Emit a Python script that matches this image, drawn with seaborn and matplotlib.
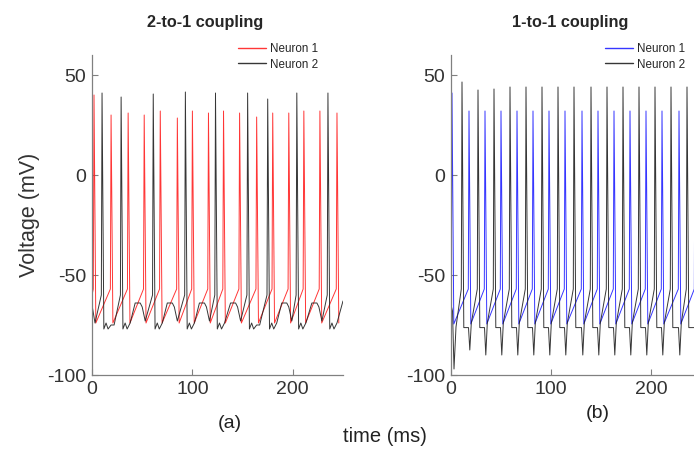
import numpy as np
import pandas as pd
import matplotlib
matplotlib.use("Agg")
import matplotlib.pyplot as plt
import seaborn as sns


# --- values (time in ms, voltage in mV) ---

# (a) 2-to-1 coupling
a_n1_spike_t = [2, 19, 36, 52, 68, 85, 100, 116, 131, 147, 164, 180, 196, 211, 227, 244]
a_n1_spike_v = [40, 30, 31, 30, 32, 28.5, 32, 31, 32, 31, 29, 31, 31, 32, 32, 31]
a_n1_extra_t = [0]
a_n1_extra_v = [-60]

a_n2_spike_t = [10, 29, 61, 93, 123, 155, 175, 204, 235]
a_n2_spike_v = [41, 39, 40.5, 41.5, 41, 41, 38, 41, 41]
a_n2_extra_t = [0, 3, 14, 16, 19, 22,
                33, 35, 38, 43, 48, 50, 53,
                65, 67, 70, 75, 80, 82, 85,
                97, 99, 102, 107, 112, 114, 117,
                127, 129, 132, 138, 143, 145, 148,
                159, 161, 164, 167,
                179, 181, 184, 189, 194, 196, 199,
                208, 210, 213, 219, 224, 226, 229,
                239, 241, 244, 250]
a_n2_extra_v = [-65, -74, -74, -77, -75, -75,
                -74, -77, -74, -64, -64, -66, -73,
                -74, -77, -74, -64, -64, -66, -73,
                -74, -77, -74, -64, -64, -66, -73,
                -74, -77, -74, -64, -64, -66, -73,
                -74, -77, -75, -75,
                -74, -77, -74, -64, -64, -66, -73,
                -74, -77, -74, -64, -64, -66, -73,
                -74, -77, -74, -63]

# (b) 1-to-1 coupling
b_n1_spike_t = [1, 18, 34, 50, 66, 82, 98, 114, 131, 147, 163, 179, 195, 211, 228, 244]
b_n1_spike_v = [41, 32, 32, 32, 32, 32, 32, 32, 32, 32, 32, 32, 32, 32, 32, 32]
b_n1_extra_t = [0]
b_n1_extra_v = [-59]

b_n2_spike_t = [11, 27, 43, 59, 75, 91, 107, 123, 140, 156, 172, 188, 204, 220, 236]
b_n2_spike_v = [46.5, 42.5, 43, 44, 44, 44, 44, 44, 44, 44, 44, 44, 44, 44, 44]
b_n2_dip_t = [18.8, 34.8, 50.8, 66.8, 82.8, 98.8, 114.8, 131.8, 147.8, 163.8,
              179.8, 195.8, 211.8, 228.8, 244.8]
b_n2_dip_v = [-87.5, -90, -90, -90, -90, -90, -90, -90, -90, -90,
              -90, -90, -90, -90, -90]
b_n2_extra_t = [0, 1.5, 3, 5, 250]
b_n2_extra_v = [-65, -68, -97, -76, -66]


def build_trace(spk_t, spk_v, v_pre, v_trough, extra_t, extra_v):
    # each spike: threshold -> peak -> after-hyperpolarisation
    t, v = [], []
    for ts, vs in zip(spk_t, spk_v):
        t += [ts - 0.7, ts, ts + 1.8]
        v += [v_pre, vs, v_trough]
    t += list(extra_t)
    v += list(extra_v)
    order = np.argsort(t)
    return pd.DataFrame({"t": np.array(t)[order], "v": np.array(v)[order]})


def add_dips(dip_t, dip_v, flat_v, rec_v):
    t, v = [], []
    for dt, dv in zip(dip_t, dip_v):
        t += [dt - 1.3, dt, dt + 1.5]
        v += [flat_v, dv, rec_v]
    return t, v


sns.set_style("ticks")
plt.rcParams["font.family"] = ["Liberation Sans", "DejaVu Sans"]
plt.rcParams["axes.unicode_minus"] = False

fig = plt.figure(figsize=(6.94, 4.51), dpi=100)
ax1 = fig.add_axes([92 / 694, 76 / 451, 251 / 694, 320 / 451])
ax2 = fig.add_axes([451 / 694, 76 / 451, 250 / 694, 320 / 451])

a_n1 = build_trace(a_n1_spike_t, a_n1_spike_v, -57, -74, a_n1_extra_t, a_n1_extra_v)
a_n2 = build_trace(a_n2_spike_t, a_n2_spike_v, -60, -77, a_n2_extra_t, a_n2_extra_v)
b_n1 = build_trace(b_n1_spike_t, b_n1_spike_v, -57, -74.5, b_n1_extra_t, b_n1_extra_v)
dip_t, dip_v = add_dips(b_n2_dip_t, b_n2_dip_v, -76.3, -74)
b_n2 = build_trace(b_n2_spike_t, b_n2_spike_v, -57, -76.3,
                   b_n2_extra_t + dip_t, b_n2_extra_v + dip_v)

lw = 0.7
sns.lineplot(data=a_n1, x="t", y="v", ax=ax1, color="#ff2020", lw=lw, alpha=0.9,
             label="Neuron 1", estimator=None, sort=False)
sns.lineplot(data=a_n2, x="t", y="v", ax=ax1, color="#202020", lw=lw, alpha=0.9,
             label="Neuron 2", estimator=None, sort=False)
sns.lineplot(data=b_n1, x="t", y="v", ax=ax2, color="#2020ff", lw=lw, alpha=0.9,
             label="Neuron 1", estimator=None, sort=False)
sns.lineplot(data=b_n2, x="t", y="v", ax=ax2, color="#202020", lw=lw, alpha=0.9,
             label="Neuron 2", estimator=None, sort=False)

for ax, anchor in [(ax1, (238 / 694, 1 - 43 / 451)), (ax2, (605 / 694, 1 - 43 / 451))]:
    ax.set_xlim(0, 250)
    ax.set_ylim(-100, 60)
    ax.set_xticks([0, 100, 200])
    ax.set_yticks([-100, -50, 0, 50])
    ax.set_xlabel("")
    ax.set_ylabel("")
    sns.despine(ax=ax)
    for s in ["left", "bottom"]:
        ax.spines[s].set_color("#808080")
        ax.spines[s].set_linewidth(0.9)
    ax.tick_params(direction="in", length=4, width=0.8, color="#808080",
                   labelsize=14, labelcolor="#333333", pad=4)
    leg = ax.legend(loc="upper left", bbox_to_anchor=anchor,
                    bbox_transform=fig.transFigure, frameon=False,
                    fontsize=8.4, handlelength=2.4, handletextpad=0.35,
                    labelspacing=0.3, borderpad=0, borderaxespad=0)
    for line in leg.get_lines():
        line.set_linewidth(1.0)

fig.text(205 / 694, 1 - 22 / 451, "2-to-1 coupling", ha="center", va="center",
         fontsize=11.7, fontweight="bold")
fig.text(570 / 694, 1 - 22 / 451, "1-to-1 coupling", ha="center", va="center",
         fontsize=11.7, fontweight="bold")
fig.text(30 / 694, 1 - 215 / 451, "Voltage (mV)", ha="center", va="center",
         rotation=90, fontsize=15.5, color="#333333")
fig.text(230 / 694, 1 - 423 / 451, "(a)", ha="center", va="center",
         fontsize=14, color="#222222")
fig.text(598 / 694, 1 - 414 / 451, "(b)", ha="center", va="center",
         fontsize=14, color="#222222")
fig.text(385 / 694, 1 - 437 / 451, "time (ms)", ha="center", va="center",
         fontsize=14.5, color="#222222")

fig.savefig("out.png", dpi=100)
